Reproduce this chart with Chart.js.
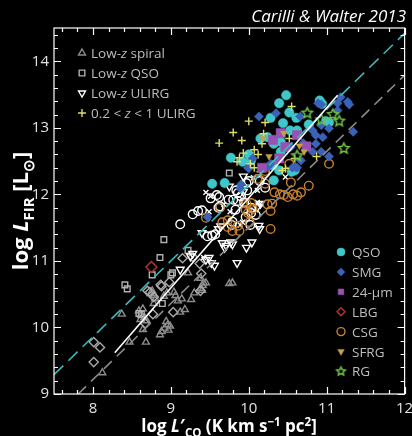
<!DOCTYPE html>
<html>
<head>
<meta charset="utf-8">
<script src="https://cdn.jsdelivr.net/npm/chart.js@4.4.1/dist/chart.umd.min.js"></script>
<style>
  html, body { margin: 0; padding: 0; background: #000; }
</style>
</head>
<body>
<canvas id="lumChart" width="412" height="436"></canvas>
<script>
// log L'CO vs log LFIR for the galaxy samples
const lowzSpiral = [[8.12,9.32],[8.37,10.20],[8.47,9.78],[8.59,10.25],[8.64,10.28],[8.62,10.18],[8.66,10.15],[8.61,10.12],
  [8.64,9.97],[8.68,9.78],[8.74,10.51],[8.79,10.48],[8.76,10.55],[8.78,10.36],[8.80,10.43],[8.86,9.89],[8.91,10.47],
  [8.95,10.52],[8.94,10.09],[8.96,10.04],[8.99,10.02],[8.92,9.99],[8.97,9.96],[8.88,9.94],[9.04,10.53],[9.06,10.48],
  [9.09,10.40],[9.14,10.43],[9.26,10.42],[9.18,10.27],[9.12,10.23],[9.22,10.82],[9.30,10.52],[9.38,10.59],[9.40,10.56],
  [9.41,10.63],[9.45,10.67],[9.38,10.74],[9.42,10.67],[9.75,10.66],[9.79,10.67],[8.69,10.10]];
const lowzQso = [[8.86,11.05],[8.76,10.79],[8.41,10.64],[8.44,10.58],[9.02,10.82],[9.00,10.79],[8.59,10.21],[8.62,10.20],
  [8.89,10.36],[8.91,11.32],[9.22,11.16],[9.75,12.32]];
const lowzDiamond = [[8.01,9.78],[8.09,9.70],[8.01,9.48],[8.67,10.06],[8.77,10.20],[9.03,10.23],[8.88,10.62],[8.73,10.53],
  [8.78,10.46],[9.15,11.04],[9.37,10.96],[9.39,10.81],[8.70,10.55],[8.87,10.64],[8.98,10.68],[9.38,10.55],[9.28,11.06]];
const lowzUlirg = [[9.40,11.42],[9.66,11.27],[9.71,11.23],[9.77,11.28],[9.79,11.25],[9.45,11.02],[9.49,11.05],[9.52,10.97],
  [9.56,10.93],[9.85,10.97],[9.12,10.87],[9.28,11.11],[9.25,11.07],[9.69,11.20],[9.97,11.20],[10.04,11.28],[10.13,11.53],
  [10.14,11.48],[9.64,11.52],[9.61,11.48],[9.93,12.27],[9.93,12.04],[10.15,11.86],[10.11,11.81],[9.75,12.12]];
const lowzCircle = [[9.12,11.55],[9.53,11.38],[9.57,11.40],[9.28,11.70],[9.35,11.75],[9.40,11.76],[9.51,11.94],[9.59,11.99],
  [9.62,11.96],[9.61,11.80],[9.63,11.82],[9.47,11.37],[9.74,11.92],[9.84,12.06],[9.86,12.02],[9.90,11.97],[9.97,12.17],
  [10.00,12.20],[9.98,12.06],[9.94,11.88],[9.83,11.77],[10.03,11.80],[10.09,11.69],[10.02,11.54],[9.78,11.54],[9.79,11.59],
  [10.14,12.20],[10.21,12.10],[10.03,11.72],[9.96,11.66],[9.80,11.92],[9.86,11.90]];
const lowzCross = [[9.45,12.03],[9.51,11.97],[9.49,11.74],[10.11,11.88],[9.89,11.54],[10.11,12.06],[10.47,12.26],[10.15,11.86],
  [9.92,11.58],[10.06,12.25],[9.42,11.05],[9.76,11.74],[9.68,11.85]];
const midzUlirg = [[10.55,13.32],[10.00,13.10],[10.21,13.08],[9.80,12.93],[9.91,12.81],[10.19,12.91],[10.17,12.76],[9.62,12.77],
  [10.07,12.67],[10.12,12.60],[9.93,12.62],[9.88,12.55],[9.85,12.49],[10.02,12.46],[10.52,12.84],[10.43,12.36],[10.07,12.40],
  [10.59,12.54],[10.87,12.57],[10.47,12.39],[10.15,12.34]];
const qso = [[10.48,13.49],[10.39,13.37],[10.52,13.23],[10.28,13.15],[10.44,13.07],[10.61,13.15],[10.91,13.41],[10.94,13.36],
  [10.77,13.05],[10.99,13.10],[11.03,13.08],[10.62,12.96],[10.53,12.96],[10.15,12.84],[10.24,12.86],[10.32,12.76],[10.41,12.79],
  [10.41,12.64],[10.47,12.71],[10.00,12.60],[9.77,12.55],[9.92,12.49],[10.03,12.51],[10.30,12.44],[10.59,12.36],[10.39,12.36],
  [9.53,12.16],[9.69,12.17],[10.32,12.21],[10.55,12.34]];
const smg = [[10.13,13.17],[10.35,13.22],[10.66,13.17],[10.89,13.37],[11.14,13.26],[10.82,12.96],[10.95,12.86],[11.03,12.99],
  [10.86,12.76],[10.82,12.64],[10.93,12.64],[11.03,12.57],[10.67,12.51],[10.56,12.40],[10.05,12.54],[10.00,12.39],[10.28,12.46],
  [10.62,12.40],[11.18,13.46],[11.27,13.39],[11.29,13.35],[10.93,13.35],[10.93,13.04],[10.86,12.89],[11.34,12.94],[10.70,12.77],
  [10.60,12.41],[10.54,12.71],[9.99,12.40],[9.89,12.09],[9.90,12.15],[9.47,11.66],[10.24,12.41],[11.14,13.37]];
const mips24 = [[10.41,12.92],[10.31,12.82],[10.62,12.89],[10.47,12.71],[10.74,12.72],[10.39,12.54],[10.17,12.40]];
const lbg = [[8.75,10.91]];
const csg = [[11.03,12.46],[10.54,12.18],[10.77,12.13],[10.67,12.03],[10.33,12.03],[10.40,12.00],[10.45,11.99],[10.50,11.96],
  [10.57,12.00],[10.24,11.85],[10.30,11.86],[10.28,11.75],[10.03,11.87],[10.05,11.78],[9.96,11.76],[10.01,11.58],[9.86,11.53],
  [9.88,11.45],[10.28,11.48],[10.21,12.32],[10.52,12.46],[10.21,12.35],[9.45,11.65],[9.63,11.80],[9.66,11.58],[9.73,11.61],
  [9.79,11.45],[9.97,11.86],[10.11,12.23],[10.21,12.16],[9.99,11.72],[9.73,11.51],[10.62,11.98]];
const sfrg = [[10.45,12.92],[10.18,12.84],[10.65,12.73],[10.71,12.64],[10.26,12.57]];
const rg = [[10.75,13.22],[11.08,13.20],[11.16,13.10],[11.22,12.69],[10.62,12.58],[10.93,13.12]];

// relations: all galaxies (cyan), low-z spirals (gray), fit (white)
const cyanRelation = [[7.5,9.29],[12.0,14.42]];
const grayRelation = [[7.81,9.0],[12.0,13.79]];
const whiteFit = [[8.28,9.62],[11.14,13.49]];

const xTickLabels = [8, 9, 10, 11, 12];
const yTickLabels = [9, 10, 11, 12, 13, 14];

const FONT = '"Open Sans", Lato, sans-serif';
const pts = arr => arr.map(([x, y]) => ({ x, y }));

function starImage(color, r) {
  const c = document.createElement('canvas');
  const s = Math.ceil(r * 2 + 4);
  c.width = c.height = s;
  const g = c.getContext('2d');
  g.strokeStyle = color;
  g.lineWidth = 1.5;
  g.beginPath();
  for (let i = 0; i < 10; i++) {
    const rr = i % 2 ? r * 0.48 : r;
    const a = -Math.PI / 2 + i * Math.PI / 5;
    g.lineTo(s / 2 + rr * Math.cos(a), s / 2 + rr * Math.sin(a));
  }
  g.closePath();
  g.stroke();
  return c;
}
const starMark = starImage('#72c24a', 5.5);
const starSmall = starImage('#72c24a', 4.5);

function markers(label, data, style, color, radius, hollow, extra) {
  return Object.assign({
    label,
    data: pts(data),
    pointStyle: style,
    pointRadius: radius,
    pointBackgroundColor: hollow ? 'rgba(0,0,0,0)' : color,
    pointBorderColor: color,
    pointBorderWidth: hollow ? 1.4 : 0.5,
    showLine: false,
  }, extra || {});
}

function relation(label, data, color, dash) {
  return {
    label, data: pts(data), showLine: true, pointRadius: 0,
    borderColor: color, borderWidth: 1.6, borderDash: dash, fill: false,
  };
}

const sets = {
  spiral: markers('Low-z spiral', lowzSpiral, 'triangle', '#8c8c8c', 4, true),
  lowQso: markers('Low-z QSO', lowzQso, 'rect', '#b0b0b0', 4, true),
  lowUlirg: markers('Low-z ULIRG', lowzUlirg, 'triangle', '#ffffff', 4.5, true, { pointRotation: 180 }),
  midUlirg: markers('0.2 < z < 1 ULIRG', midzUlirg, 'cross', '#dede62', 4, true),
  qso: markers('QSO', qso, 'circle', '#3ec6c9', 4.7, false),
  smg: markers('SMG', smg, 'rectRot', '#3b62b8', 4.6, false),
  mips: markers('24-µm', mips24, 'rect', '#9a52b2', 6.5, false),
  lbg: markers('LBG', lbg, 'rectRot', '#b8352c', 5.5, true),
  csg: markers('CSG', csg, 'circle', '#c9812e', 4.3, true),
  sfrg: markers('SFRG', sfrg, 'triangle', '#c9a04a', 3.8, false, { pointRotation: 180 }),
  rg: markers('RG', rg, starMark, '#72c24a', 6, true),
};

const datasets = [
  relation('fit', whiteFit, '#ffffff', []),
  relation('all', cyanRelation, '#3ab9bd', [13, 7]),
  relation('spirals', grayRelation, '#8a8a8a', [11, 7]),
  sets.sfrg, sets.mips, sets.rg, sets.midUlirg, sets.smg, sets.qso, sets.csg, sets.lbg,
  markers('cross', lowzCross, 'crossRot', '#ffffff', 3.5, true),
  markers('circle', lowzCircle, 'circle', '#ffffff', 4.3, true),
  sets.lowUlirg,
  markers('diamond', lowzDiamond, 'rectRot', '#a8a8a8', 4.6, true),
  sets.lowQso,
  sets.spiral,
];

// text with italic / sub / superscript runs
function richText(ctx, parts, x, y, size, weight, align, color) {
  const fontOf = p => {
    const s = p.sub || p.sup ? size * 0.68 : size;
    return `${p.i ? 'italic ' : ''}${weight} ${s}px ${FONT}`;
  };
  let total = 0;
  parts.forEach(p => { ctx.font = fontOf(p); p.w = ctx.measureText(p.t).width; total += p.w; });
  let cx = align === 'center' ? x - total / 2 : align === 'right' ? x - total : x;
  ctx.fillStyle = color;
  ctx.textBaseline = 'alphabetic';
  ctx.textAlign = 'left';
  parts.forEach(p => {
    ctx.font = fontOf(p);
    const dy = p.sub ? size * 0.28 : p.sup ? -size * 0.38 : 0;
    ctx.fillText(p.t, cx, y + dy);
    cx += p.w;
  });
}

function legendMark(ctx, ds, x, y) {
  ctx.save();
  ctx.fillStyle = ds.pointBackgroundColor;
  ctx.strokeStyle = ds.pointBorderColor;
  ctx.lineWidth = ds.pointBorderWidth;
  const style = ds.pointStyle === starMark ? starSmall : ds.pointStyle;
  Chart.helpers.drawPoint(ctx, {
    pointStyle: style, radius: Math.min(ds.pointRadius, 4), rotation: ds.pointRotation || 0,
    borderWidth: ds.pointBorderWidth,
  }, x, y);
  ctx.restore();
}

const decor = {
  id: 'decor',
  afterDatasetsDraw(chart) {
    const { ctx, chartArea: a, scales: { x, y } } = chart;
    ctx.save();
    ctx.strokeStyle = '#ffffff';
    ctx.lineWidth = 1.2;
    ctx.strokeRect(a.left, a.top, a.right - a.left, a.bottom - a.top);
    ctx.beginPath();
    for (let k = 38; k <= 60; k++) {
      const px = Math.round(x.getPixelForValue(k / 5)) + 0.5;
      const len = k % 5 === 0 ? 7 : 4;
      ctx.moveTo(px, a.bottom); ctx.lineTo(px, a.bottom - len);
      ctx.moveTo(px, a.top); ctx.lineTo(px, a.top + len);
    }
    for (let k = 45; k <= 72; k++) {
      const py = Math.round(y.getPixelForValue(k / 5)) + 0.5;
      const len = k % 5 === 0 ? 7 : 4;
      ctx.moveTo(a.left, py); ctx.lineTo(a.left + len, py);
      ctx.moveTo(a.right, py); ctx.lineTo(a.right - len, py);
    }
    ctx.stroke();

    // legend, low-z samples
    const topLegend = [
      [sets.spiral, [{ t: 'Low-' }, { t: 'z', i: true }, { t: ' spiral' }]],
      [sets.lowQso, [{ t: 'Low-' }, { t: 'z', i: true }, { t: ' QSO' }]],
      [sets.lowUlirg, [{ t: 'Low-' }, { t: 'z', i: true }, { t: ' ULIRG' }]],
      [sets.midUlirg, [{ t: '0.2 < ' }, { t: 'z', i: true }, { t: ' < 1 ULIRG' }]],
    ];
    topLegend.forEach(([ds, parts], i) => {
      const ly = 53 + i * 20;
      legendMark(ctx, ds, 82, ly);
      richText(ctx, parts, 91, ly + 5, 13.5, 'normal', 'left', '#bdbdbd');
    });

    // legend, high-z samples
    const rightLegend = [sets.qso, sets.smg, sets.mips, sets.lbg, sets.csg, sets.sfrg, sets.rg];
    rightLegend.forEach((ds, i) => {
      const ly = 252 + i * 19.9;
      legendMark(ctx, ds, 341, ly);
      richText(ctx, [{ t: ds.label }], 352, ly + 5, 13.5, 'normal', 'left', '#bdbdbd');
    });

    richText(ctx, [{ t: 'Carilli & Walter 2013', i: true }], 406, 22, 17, 'normal', 'right', '#ffffff');

    richText(ctx, [{ t: 'log ' }, { t: 'L', i: true }, { t: '′' }, { t: 'CO', sub: true },
      { t: ' (K km s' }, { t: '−1', sup: true }, { t: ' pc' }, { t: '2', sup: true }, { t: ']' }],
      229, 432, 17, 'bold', 'center', '#ffffff');

    ctx.translate(28, 211);
    ctx.rotate(-Math.PI / 2);
    richText(ctx, [{ t: 'log ' }, { t: 'L', i: true }, { t: 'FIR', sub: true }, { t: ' [L' }, { t: '⊙', sub: true }, { t: ']' }],
      0, 0, 22, 'bold', 'center', '#ffffff');
    ctx.restore();
  },
};

new Chart(document.getElementById('lumChart'), {
  type: 'scatter',
  data: { datasets },
  options: {
    responsive: false,
    animation: false,
    layout: { padding: { top: 28, right: 7, left: 0, bottom: 0 } },
    plugins: { legend: { display: false }, tooltip: { enabled: false } },
    scales: {
      x: {
        min: 7.5, max: 12,
        grid: { display: false, drawTicks: false },
        border: { display: false },
        afterBuildTicks: s => { s.ticks = xTickLabels.map(v => ({ value: v })); },
        afterFit: s => { s.height = 42; s.paddingLeft = 0; s.paddingRight = 0; },
        ticks: { color: '#e2e2e2', padding: 6, maxRotation: 0, font: { family: FONT, size: 15 } },
      },
      y: {
        min: 9, max: 14.5,
        grid: { display: false, drawTicks: false },
        border: { display: false },
        afterBuildTicks: s => { s.ticks = yTickLabels.map(v => ({ value: v })); },
        afterFit: s => { s.width = 54; s.paddingTop = 0; s.paddingBottom = 0; },
        ticks: { color: '#e2e2e2', padding: 5, font: { family: FONT, size: 15 } },
      },
    },
  },
  plugins: [decor],
});
</script>
</body>
</html>
